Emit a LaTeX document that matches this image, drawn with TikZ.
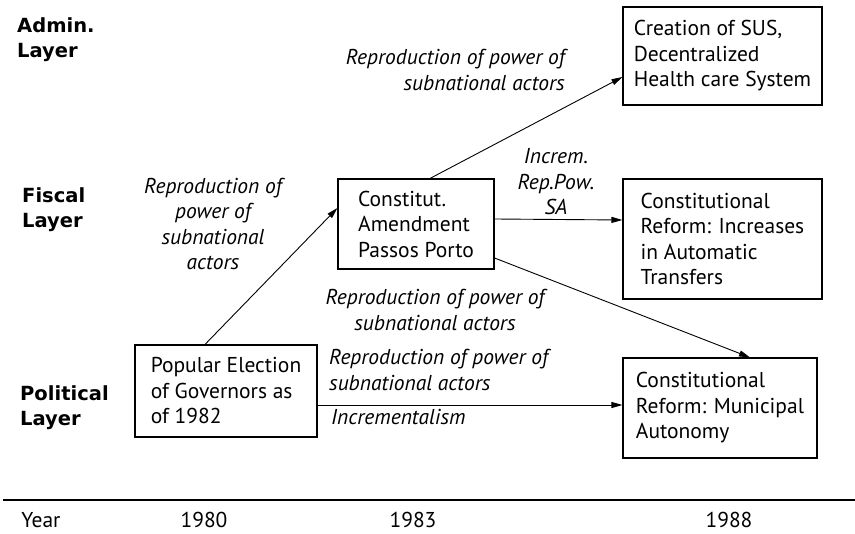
\documentclass[tikz,border=0pt]{standalone}
\usepackage{fontspec}
\setmainfont{PT Sans}
\newfontfamily\layerfont{DejaVu Sans}
\usetikzlibrary{arrows.meta}
\begin{document}
\begin{tikzpicture}[x=1pt,y=-1pt,>={Triangle[length=11pt,width=6pt]},
        font=\fontsize{21.5}{25.5}\selectfont]
            \useasboundingbox (0,0) rectangle (855,534);
            \begin{scope}[every node/.style={anchor=west,inner sep=0pt,align=left,
                    font=\layerfont\bfseries\fontsize{19.5}{25}\selectfont}]
                \node (adminlayer) at (17,40) {Admin.\\Layer};
                \node (fiscallayer) at (22,210) {Fiscal\\Layer};
                \node (politicallayer) at (20,408) {Political\\Layer};
            \end{scope}
            \begin{scope}[every node/.style={draw,line width=1.1pt,align=left,inner sep=0pt}]
                \node[minimum width=199pt,minimum height=98pt] (sus) at (722.5,56)
                    {Creation of SUS,\\Decentralized\\Health care System};
                \node[minimum width=156pt,minimum height=90pt] (passos) at (416,224)
                    {Constitut.\\Amendment\\Passos Porto};
                \node[minimum width=199pt,minimum height=120pt] (transfers) at (722.5,239)
                    {Constitutional\\Reform: Increases\\in Automatic\\Transfers};
                \node[minimum width=182pt,minimum height=92pt] (election) at (226,391)
                    {Popular Election\\of Governors as\\of 1982};
                \node[minimum width=194pt,minimum height=100pt] (municipal) at (720,408)
                    {Constitutional\\Reform: Municipal\\Autonomy};
            \end{scope}
            \begin{scope}[every node/.style={font=\itshape\fontsize{21.5}{25.5}\selectfont,inner sep=0pt}]
                \node[align=center] (repleft) at (213,224)
                    {Reproduction of\\power of\\subnational\\actors};
                \node[anchor=east,align=right] (reptop) at (565,70)
                    {Reproduction of power of\\subnational actors};
                \node[align=center] (increm) at (556,182) {Increm.\\Rep.Pow.\\SA};
                \node[align=center] (repmid) at (435,310)
                    {Reproduction of power of\\subnational actors};
                \node[anchor=west,align=left] (replow) at (329,370)
                    {Reproduction of power of\\subnational actors};
                \node[anchor=west] (incremental) at (331,417) {Incrementalism};
            \end{scope}
            \begin{scope}[every edge/.style={draw,line width=0.9pt,->}]
                \path
                    ([xshift=-21pt]election.north) edge ([yshift=16pt]passos.west)
                    ([xshift=14pt]passos.north) edge ([yshift=-21pt]sus.west)
                    ([yshift=5pt]passos.east) edge ([yshift=19pt]transfers.west)
                    ([yshift=-34pt]passos.east) edge ([xshift=30pt]municipal.north)
                    ([yshift=-14pt]election.east) edge ([yshift=3pt]municipal.west);
            \end{scope}
            \draw[line width=1.1pt] (3,500) -- (855,500);
            \begin{scope}[every node/.style={inner sep=0pt}]
                \node (year) at (41,520) {Year};
                \node (y1980) at (204,520) {1980};
                \node (y1983) at (413,520) {1983};
                \node (y1988) at (729,520) {1988};
            \end{scope}
        \end{tikzpicture}
\end{document}
